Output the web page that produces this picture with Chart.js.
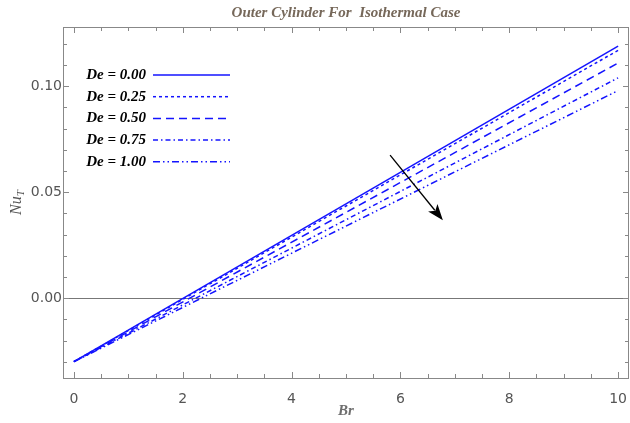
<!DOCTYPE html>
<html>
<head>
<meta charset="utf-8">
<script src="https://cdn.jsdelivr.net/npm/chart.js@4.4.1/dist/chart.umd.min.js"></script>
<style>
  html, body { margin: 0; padding: 0; background: #fff; }
  #wrap { width: 630px; height: 423px; position: relative; }
</style>
</head>
<body>
<div id="wrap"><canvas id="chart"></canvas></div>
<script>
// data
const brValues = [0, 10];
const deLabels = ['De = 0.00', 'De = 0.25', 'De = 0.50', 'De = 0.75', 'De = 1.00'];
const nuDe000 = [-0.030, 0.119];
const nuDe025 = [-0.030, 0.117];
const nuDe050 = [-0.030, 0.111];
const nuDe075 = [-0.030, 0.104];
const nuDe100 = [-0.030, 0.098];
const xTicks = [0, 2, 4, 6, 8, 10];
const yTicks = [0, 0.05, 0.10];

const blue = '#1414ff';
const dashes = [[], [3, 3], [8, 5], [5, 3, 1.5, 3], [7, 3, 1.5, 3, 1.5, 3]];
const series = [nuDe000, nuDe025, nuDe050, nuDe075, nuDe100];

const datasets = series.map((vals, i) => ({
  label: deLabels[i],
  data: brValues.map((b, j) => ({ x: b, y: vals[j] })),
  borderColor: blue,
  borderWidth: 1.5,
  borderDash: dashes[i],
  pointRadius: 0,
  fill: false,
  tension: 0
}));

// frame, ticks, zero line, legend, arrow, texts
const decor = {
  id: 'decor',
  beforeDatasetsDraw(chart) {
    const ctx = chart.ctx;
    const a = chart.chartArea;
    const ys = chart.scales.y;
    ctx.save();
    // zero line
    ctx.strokeStyle = '#777';
    ctx.lineWidth = 1;
    ctx.beginPath();
    const y0 = Math.round(ys.getPixelForValue(0)) + 0.5;
    ctx.moveTo(a.left, y0); ctx.lineTo(a.right, y0);
    ctx.stroke();
    ctx.restore();
  },
  afterDatasetsDraw(chart) {
    const ctx = chart.ctx;
    const a = chart.chartArea;
    const xs = chart.scales.x, ys = chart.scales.y;
    ctx.save();
    ctx.strokeStyle = '#888';
    ctx.lineWidth = 1;
    ctx.strokeRect(Math.round(a.left) + 0.5, Math.round(a.top) + 0.5,
      Math.round(a.right - a.left) - 1, Math.round(a.bottom - a.top));
    // x ticks
    ctx.beginPath();
    for (let v = 0; v <= 10.001; v += 0.5) {
      const px = Math.round(xs.getPixelForValue(v)) + 0.5;
      const len = (Math.abs(v % 2) < 1e-6) ? 6 : 4;
      ctx.moveTo(px, a.bottom); ctx.lineTo(px, a.bottom - len);
      ctx.moveTo(px, a.top); ctx.lineTo(px, a.top + len);
    }
    // y ticks
    for (let k = -3; k <= 12; k++) {
      const v = k / 100;
      const py = Math.round(ys.getPixelForValue(v)) + 0.5;
      const len = (k % 5 === 0) ? 6 : 4;
      ctx.moveTo(a.left, py); ctx.lineTo(a.left + len, py);
      ctx.moveTo(a.right, py); ctx.lineTo(a.right - len, py);
    }
    ctx.stroke();

    // legend
    ctx.font = 'bold italic 15px "Liberation Serif", "DejaVu Serif", serif';
    ctx.textBaseline = 'middle';
    chart.data.datasets.forEach((ds, i) => {
      const ly = 75 + i * 21.7;
      ctx.fillStyle = '#000';
      ctx.textAlign = 'right';
      ctx.fillText(ds.label, 146, ly);
      ctx.strokeStyle = ds.borderColor;
      ctx.lineWidth = 1.5;
      ctx.setLineDash(ds.borderDash);
      ctx.beginPath();
      ctx.moveTo(153, ly); ctx.lineTo(230, ly);
      ctx.stroke();
    });
    ctx.setLineDash([]);

    // arrow
    const x1 = xs.getPixelForValue(5.81), y1 = ys.getPixelForValue(0.0675);
    const x2 = xs.getPixelForValue(6.78), y2 = ys.getPixelForValue(0.0368);
    const ang = Math.atan2(y2 - y1, x2 - x1);
    const hl = 16, hw = 6;
    ctx.strokeStyle = '#000';
    ctx.fillStyle = '#000';
    ctx.lineWidth = 1.3;
    ctx.beginPath();
    ctx.moveTo(x1, y1);
    ctx.lineTo(x2 - Math.cos(ang) * hl * 0.8, y2 - Math.sin(ang) * hl * 0.8);
    ctx.stroke();
    ctx.beginPath();
    ctx.moveTo(x2, y2);
    ctx.lineTo(x2 - Math.cos(ang) * hl - Math.sin(ang) * hw, y2 - Math.sin(ang) * hl + Math.cos(ang) * hw);
    ctx.lineTo(x2 - Math.cos(ang) * hl * 0.75, y2 - Math.sin(ang) * hl * 0.75);
    ctx.lineTo(x2 - Math.cos(ang) * hl + Math.sin(ang) * hw, y2 - Math.sin(ang) * hl - Math.cos(ang) * hw);
    ctx.closePath();
    ctx.fill();

    // title
    ctx.fillStyle = '#76685a';
    ctx.textAlign = 'center';
    ctx.font = 'bold italic 15px "Liberation Serif", "DejaVu Serif", serif';
    ctx.fillText('Outer Cylinder For  Isothermal Case', (a.left + a.right) / 2, 13);

    // x axis title
    ctx.fillStyle = '#6e6e6e';
    ctx.font = 'bold italic 15px "Liberation Serif", "DejaVu Serif", serif';
    ctx.fillText('Br', (a.left + a.right) / 2, 411);

    // y axis title Nu_T
    ctx.save();
    ctx.translate(17, (a.top + a.bottom) / 2);
    ctx.rotate(-Math.PI / 2);
    ctx.fillStyle = '#555';
    ctx.font = 'italic 16px "Liberation Serif", "DejaVu Serif", serif';
    const w1 = ctx.measureText('Nu').width;
    ctx.font = 'italic 11px "Liberation Serif", "DejaVu Serif", serif';
    const w2 = ctx.measureText('T').width;
    const sx = -(w1 + w2) / 2;
    ctx.textAlign = 'left';
    ctx.font = 'italic 16px "Liberation Serif", "DejaVu Serif", serif';
    ctx.fillText('Nu', sx, 0);
    ctx.font = 'italic 11px "Liberation Serif", "DejaVu Serif", serif';
    ctx.fillText('T', sx + w1, 4);
    ctx.restore();

    ctx.restore();
  }
};

new Chart(document.getElementById('chart'), {
  type: 'line',
  data: { datasets },
  options: {
    responsive: true,
    maintainAspectRatio: false,
    animation: false,
    layout: { padding: { top: 27, right: 1, left: 0, bottom: 0 } },
    plugins: { legend: { display: false }, tooltip: { enabled: false }, title: { display: false } },
    scales: {
      x: {
        type: 'linear',
        min: -0.2,
        max: 10.2,
        afterBuildTicks: s => { s.ticks = xTicks.map(v => ({ value: v })); },
        afterFit: s => { s.height = 45; s.paddingLeft = 0; s.paddingRight = 0; },
        grid: { display: false },
        border: { display: false },
        ticks: {
          padding: 5,
          color: '#555',
          font: { family: '"DejaVu Sans", sans-serif', size: 14 },
          maxRotation: 0,
          callback: v => String(v)
        }
      },
      y: {
        type: 'linear',
        min: -0.0377,
        max: 0.128,
        afterBuildTicks: s => { s.ticks = yTicks.map(v => ({ value: v })); },
        afterFit: s => { s.width = 63; s.paddingTop = 0; s.paddingBottom = 0; },
        grid: { display: false },
        border: { display: false },
        ticks: {
          padding: -7,
          color: '#555',
          font: { family: '"DejaVu Sans", sans-serif', size: 14 },
          callback: v => v.toFixed(2)
        }
      }
    }
  },
  plugins: [decor]
});
</script>
</body>
</html>
